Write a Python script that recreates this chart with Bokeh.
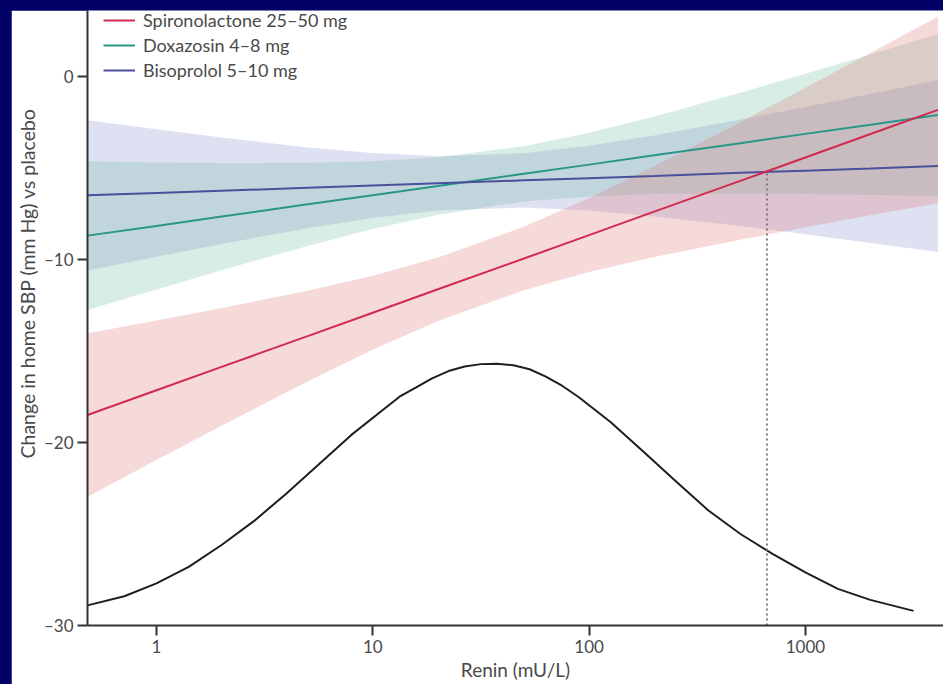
from bokeh.plotting import figure
from bokeh.models import FixedTicker, Legend, LegendItem, Range1d, Title
from bokeh.embed import file_html
from bokeh.resources import INLINE

# ---- data ----
renin_grid = [0.48, 1, 2, 5, 10, 20, 50, 100, 200, 500, 1000, 2000, 4100]
spiro_mean = [-18.50, -17.15, -15.87, -14.19, -12.91, -11.63, -9.95, -8.67, -7.39, -5.71, -4.43, -3.15, -1.83]
spiro_upper = [-14.03, -13.34, -12.66, -11.71, -10.89, -9.90, -8.22, -6.65, -4.91, -2.50, -0.62, 1.28, 3.27]
spiro_lower = [-22.97, -20.96, -19.08, -16.67, -14.93, -13.36, -11.68, -10.69, -9.87, -8.92, -8.24, -7.58, -6.93]
doxa_mean = [-8.70, -8.17, -7.66, -6.99, -6.49, -5.99, -5.32, -4.82, -4.31, -3.65, -3.14, -2.64, -2.11]
doxa_upper = [-4.64, -4.70, -4.73, -4.72, -4.64, -4.42, -3.81, -3.08, -2.19, -0.89, 0.15, 1.20, 2.32]
doxa_lower = [-12.76, -11.64, -10.59, -9.26, -8.34, -7.56, -6.83, -6.56, -6.43, -6.41, -6.43, -6.48, -6.54]
biso_mean = [-6.50, -6.37, -6.25, -6.09, -5.96, -5.84, -5.68, -5.56, -5.44, -5.27, -5.15, -5.03, -4.90]
biso_upper = [-2.39, -2.89, -3.34, -3.88, -4.19, -4.36, -4.20, -3.79, -3.23, -2.36, -1.67, -0.96, -0.20]
biso_lower = [-10.61, -9.85, -9.16, -8.30, -7.73, -7.32, -7.16, -7.33, -7.65, -8.18, -8.63, -9.10, -9.60]

dist_renin = [0.48, 0.71, 1, 1.41, 2.0, 2.82, 3.98, 5.62, 7.94, 11.2, 13.3, 15.8, 18.8, 22.4,
              26.6, 31.6, 37.6, 44.7, 53.1, 63.1, 75, 89.1, 106, 126, 178, 251, 355, 501,
              708, 1000, 1413, 1995, 3162]
dist_curve = [-28.9, -28.4, -27.7, -26.8, -25.6, -24.3, -22.8, -21.2, -19.6, -18.2, -17.5, -17.0,
              -16.5, -16.1, -15.85, -15.72, -15.7, -15.78, -16.0, -16.4, -16.9, -17.5, -18.2,
              -18.9, -20.5, -22.1, -23.7, -25.0, -26.1, -27.1, -28.0, -28.6, -29.2]

crossover_renin = [664]
crossover_sbp = [-5.2]
axis_floor = [-30]

x_ticks = [1, 10, 100, 1000]
y_ticks = [0, -10, -20, -30]
y_tick_labels = ["0", "\u201310", "\u201320", "\u201330"]

labels = ["Spironolactone 25\u201350 mg", "Doxazosin 4\u20138 mg", "Bisoprolol 5\u201310 mg"]
x_title = "Renin (mU/L)"
y_title = "Change in home SBP (mm Hg) vs placebo"

FONT = "Lato"
TXT = "#4a4a4a"

p = figure(width=932, height=674, x_axis_type="log",
           x_range=Range1d(0.48, 4350), y_range=Range1d(-30, 3.6),
           output_backend="svg", toolbar_location=None,
           min_border_left=76, min_border_right=0, min_border_top=0, min_border_bottom=59)
p.margin = (10, 0, 0, 11)
p.background_fill_color = "white"
p.border_fill_color = "white"
p.outline_line_color = None
p.xgrid.visible = False
p.ygrid.visible = False

# bands
p.varea(x=renin_grid, y1=biso_lower, y2=biso_upper, fill_color="#7b88c8", fill_alpha=0.25)
p.varea(x=renin_grid, y1=doxa_lower, y2=doxa_upper, fill_color="#5fb39a", fill_alpha=0.24)
p.varea(x=renin_grid, y1=spiro_lower, y2=spiro_upper, fill_color="#e07b7b", fill_alpha=0.28)

# lines
r_doxa = p.line(renin_grid, doxa_mean, line_color="#2a9688", line_width=2)
r_biso = p.line(renin_grid, biso_mean, line_color="#4b4f9c", line_width=2)
r_spiro = p.line(renin_grid, spiro_mean, line_color="#d12a4e", line_width=2)

# distribution curve
p.line(dist_renin, dist_curve, line_color="#1e1e1e", line_width=2, line_join="round")

# crossover dashed line
p.segment(x0=crossover_renin, y0=axis_floor, x1=crossover_renin, y1=crossover_sbp,
          line_color="#7a7a7a", line_width=2, line_dash="2 3")

legend = Legend(items=[LegendItem(label=labels[0], renderers=[r_spiro]),
                       LegendItem(label=labels[1], renderers=[r_doxa]),
                       LegendItem(label=labels[2], renderers=[r_biso])],
                location=(16, 544), margin=0, padding=0, spacing=3,
                label_height=22, glyph_height=22, glyph_width=32, label_standoff=8,
                border_line_color=None, background_fill_alpha=0,
                label_text_font=FONT, label_text_font_size="18px", label_text_color=TXT)
p.add_layout(legend)

# axes
for ax in (p.xaxis[0], p.yaxis[0]):
    ax.axis_line_color = "#333333"
    ax.axis_line_width = 2
    ax.major_tick_line_color = "#333333"
    ax.major_tick_line_width = 2
    ax.major_tick_in = 0
    ax.major_tick_out = 10
    ax.minor_tick_line_color = None
    ax.major_label_text_font = FONT
    ax.major_label_text_font_size = "17px"
    ax.major_label_text_color = TXT
    ax.axis_label_text_font = FONT
    ax.axis_label_text_font_size = "19px"
    ax.axis_label_text_font_style = "normal"
    ax.axis_label_text_color = TXT
    ax.major_label_standoff = 4

p.xaxis.ticker = FixedTicker(ticks=x_ticks)
p.xaxis.major_label_overrides = {t: str(t) for t in x_ticks}
p.xaxis.axis_label = x_title
p.xaxis.axis_label_standoff = 2

p.yaxis.ticker = FixedTicker(ticks=y_ticks)
p.yaxis.major_label_overrides = dict(zip(y_ticks, y_tick_labels))

ytitle = Title(text=y_title, align="left", offset=167, standoff=0, vertical_align="top",
               text_font=FONT, text_font_size="19.5px", text_font_style="normal",
               text_color=TXT)
p.add_layout(ytitle, "left")

html = file_html(p, INLINE)
html = html.replace("<head>", "<head><style>html,body{margin:0;padding:0;background:#000066;}</style>", 1)
open("out.html", "w").write(html)
